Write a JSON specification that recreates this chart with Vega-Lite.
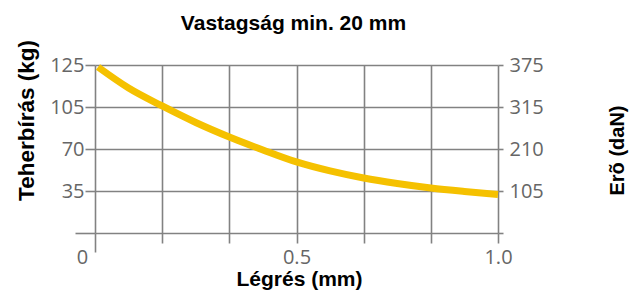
{
  "$schema": "https://vega.github.io/schema/vega-lite/v6.json",
  "width": 403,
  "height": 168,
  "autosize": {"type": "none"},
  "padding": {"left": 95, "top": 65, "right": 145, "bottom": 58},
  "background": "white",
  "title": {
    "text": "Vastagság min. 20 mm",
    "font": "Liberation Sans",
    "fontSize": 21,
    "fontWeight": "bold",
    "color": "#000000",
    "anchor": "middle",
    "frame": "group",
    "baseline": "alphabetic",
    "offset": -11,
    "dx": -3
  },
  "config": {"view": {"stroke": null}},
  "data": {
    "values": [
      {"legres": 0.0074, "kg": 124.05},
      {"legres": 0.0833, "kg": 114.05},
      {"legres": 0.1667, "kg": 105.5},
      {"legres": 0.25, "kg": 92.1},
      {"legres": 0.3333, "kg": 80.0},
      {"legres": 0.4167, "kg": 69.2},
      {"legres": 0.5, "kg": 59.2},
      {"legres": 0.5833, "kg": 51.7},
      {"legres": 0.6667, "kg": 45.8},
      {"legres": 0.75, "kg": 41.25},
      {"legres": 0.8333, "kg": 37.5},
      {"legres": 0.9167, "kg": 34.6},
      {"legres": 1.0, "kg": 32.1}
    ]
  },
  "layer": [
    {
      "mark": {"type": "line", "color": "#f5c100", "strokeWidth": 7, "interpolate": "monotone", "strokeCap": "butt"},
      "encoding": {
        "x": {
          "field": "legres",
          "type": "quantitative",
          "scale": {"domain": [0, 1], "nice": false, "zero": false},
          "axis": {
            "orient": "bottom",
            "values": [0, 0.16666667, 0.33333333, 0.5, 0.66666667, 0.83333333, 1],
            "labelExpr": "datum.value == 0 ? '0' : (datum.value == 0.5 ? '0.5' : (datum.value == 1 ? '1.0' : ''))",
            "grid": true,
            "gridColor": "#828282",
            "gridWidth": 1.6,
            "domain": false,
            "ticks": true,
            "tickColor": "#828282",
            "tickWidth": 1.6,
            "tickSize": {"condition": {"test": "datum.value == 0", "value": 19}, "value": 10},
            "labelFlush": false,
            "labelOverlap": false,
            "labelBound": false,
            "labelFont": "Open Sans",
            "labelFontSize": 20,
            "labelColor": "#666666",
            "labelBaseline": "alphabetic",
            "labelPadding": {"condition": {"test": "datum.value == 0", "value": 11}, "value": 20},
            "labelOffset": {"condition": {"test": "datum.value == 0", "value": -13}, "value": 0},
            "title": "Légrés (mm)",
            "titleFont": "Liberation Sans",
            "titleFontSize": 21,
            "titleFontWeight": "bold",
            "titleColor": "#000000",
            "titleBaseline": "alphabetic",
            "titleAlign": "center",
            "titleX": 204,
            "titleY": 52
          }
        },
        "y": {
          "field": "kg",
          "type": "quantitative",
          "scale": {"type": "linear", "domain": [0, 35, 70, 105, 125], "range": [168, 126, 84, 42, 0], "nice": false, "zero": false},
          "axis": {
            "orient": "left",
            "values": [0, 35, 70, 105, 125],
            "labelExpr": "datum.value == 0 ? '' : datum.label",
            "grid": true,
            "gridColor": "#828282",
            "gridWidth": 1.6,
            "domain": false,
            "tickColor": "#828282",
            "tickWidth": 1.6,
            "tickSize": {"condition": {"test": "datum.value == 0", "value": 20}, "value": 10},
            "labelPadding": 1,
            "labelFont": "Open Sans",
            "labelFontSize": 20,
            "labelColor": "#666666",
            "labelOverlap": false,
            "labelFlush": false,
            "title": "Teherbírás (kg)",
            "titleFont": "Liberation Sans",
            "titleFontSize": 22.5,
            "titleFontWeight": "bold",
            "titleColor": "#000000",
            "titleAngle": 270,
            "titleBaseline": "alphabetic",
            "titleAlign": "center",
            "titleX": -62,
            "titleY": 55
          }
        }
      }
    },
    {
      "mark": {"type": "line", "opacity": 0},
      "encoding": {
        "x": {"field": "legres", "type": "quantitative"},
        "y": {
          "field": "kg",
          "type": "quantitative",
          "scale": {"type": "linear", "domain": [0, 35, 70, 105, 125], "range": [168, 126, 84, 42, 0], "nice": false, "zero": false},
          "axis": {
            "orient": "right",
            "values": [0, 35, 70, 105, 125],
            "labelExpr": "datum.value == 0 ? '' : format(datum.value * 3, 'd')",
            "grid": false,
            "domain": false,
            "tickColor": "#828282",
            "tickWidth": 1.6,
            "tickSize": 5,
            "labelPadding": 6,
            "labelFont": "Open Sans",
            "labelFontSize": 20,
            "labelColor": "#666666",
            "labelOverlap": false,
            "labelFlush": false,
            "title": "Erõ (daN)",
            "titleFont": "Liberation Sans",
            "titleFontSize": 20,
            "titleFontWeight": "bold",
            "titleColor": "#000000",
            "titleAngle": 270,
            "titleBaseline": "alphabetic",
            "titleAlign": "center",
            "titleX": 125,
            "titleY": 85
          }
        }
      }
    }
  ],
  "resolve": {"scale": {"y": "independent"}, "axis": {"y": "independent"}}
}
